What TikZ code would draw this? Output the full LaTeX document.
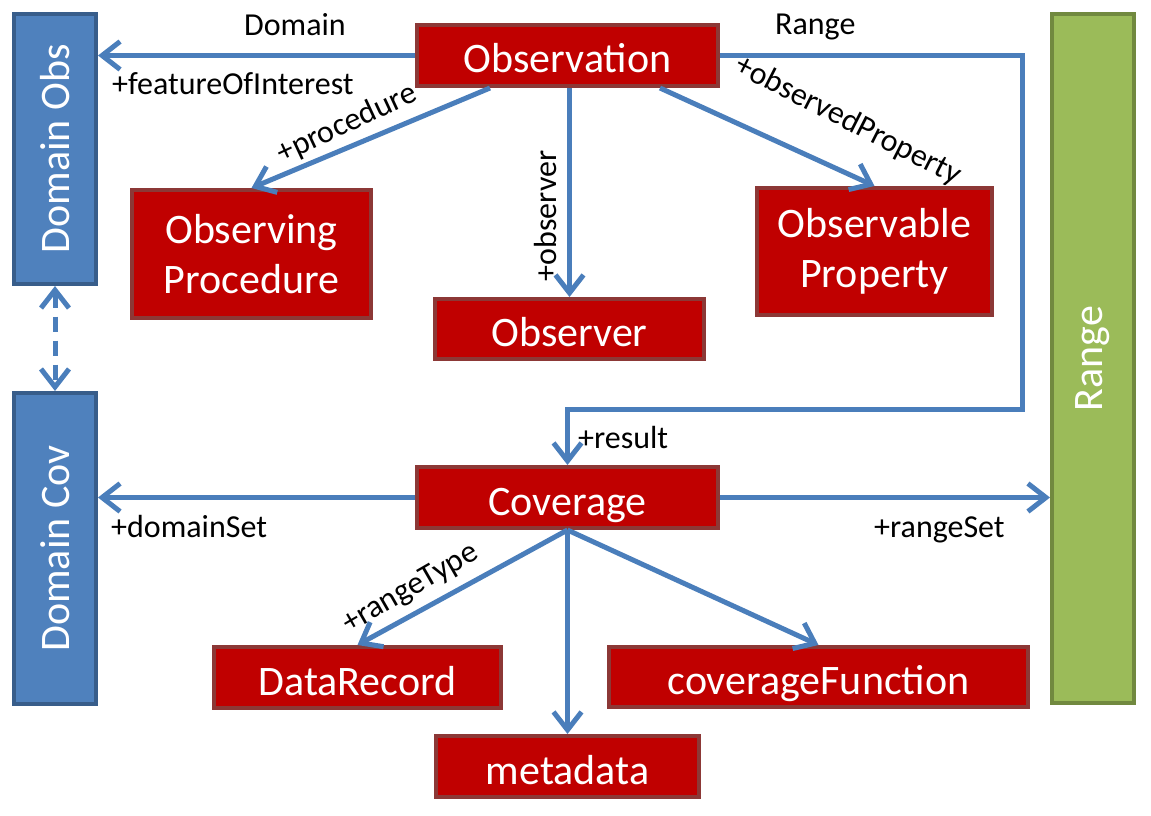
\documentclass[tikz,border=0pt]{standalone}
\usepackage{fontspec}
\setmainfont{Carlito}
\usepackage{graphicx}
\usepackage{tikz}
\usetikzlibrary{positioning, arrows.meta, calc}
\definecolor{boxred}{HTML}{C00000}
\definecolor{boxedge}{HTML}{8C3836}
\definecolor{domblue}{HTML}{4F81BD}
\definecolor{domedge}{HTML}{385D8A}
\definecolor{rnggreen}{HTML}{9BBB59}
\definecolor{rngedge}{HTML}{71893F}
\definecolor{linkblue}{HTML}{4A7EBB}

\begin{document}
\begin{tikzpicture}[x=1pt,y=-1pt,on grid,
        box/.style={draw=boxedge, fill=boxred, line width=4pt, text=white, align=center, inner sep=0pt, font=\fontsize{42}{50}\selectfont},
        onebox/.style={box, text height=35pt, text depth=0pt},
        side/.style={draw=domedge, fill=domblue, line width=4pt, text=white, inner sep=0pt, minimum width=82pt, font=\fontsize{42}{50}\selectfont},
        lbl/.style={inner sep=0pt, font=\fontsize{32}{36}\selectfont},
        link/.style={draw=linkblue, line width=5pt, -{Straight Barb[length=18pt,width=28pt]}}]
        \useasboundingbox (0,0) rectangle (1151,816);

        \node[side, minimum height=270pt] (dobs) at (55,149) {\rotatebox{90}{Domain Obs}};
        \node[side, minimum height=311pt] (dcov) at (55,548.5) {\rotatebox{90}{Domain Cov}};
        \node[side, draw=rngedge, fill=rnggreen, minimum height=689pt] (rng) at (1093,358.5) {\rotatebox{90}{Range}};

        \node[onebox, minimum width=301pt, minimum height=61pt] (obs) at (567.5,55.5) {Observation};
        \node[box, minimum width=239pt, minimum height=128pt] (proc) [below left=198.5pt and 316pt of obs] {Observing\\Procedure};
        \node[onebox, minimum width=269pt, minimum height=60pt] (obsr) [below right=273.5pt and 2pt of obs] {Observer};
        \node[box, minimum width=235pt, minimum height=127pt] (prop) [below right=196pt and 307pt of obs] {Observable\\Property};
        \node[onebox, minimum width=301pt, minimum height=61pt] (cov) [below=442pt of obs] {Coverage};
        \node[onebox, minimum width=287pt, minimum height=61pt] (rec) [below left=180pt and 210pt of cov] {DataRecord};
        \node[onebox, minimum width=419pt, minimum height=60pt] (fun) [below right=179.5pt and 251pt of cov] {coverageFunction};
        \node[onebox, minimum width=263pt, minimum height=61pt] (meta) [below=269pt of cov] {metadata};

        \coordinate (rc) at (1022.5,409);

        % observation links
        \draw[link] (obs.west) -- (obs.west -| dobs.east);
        \draw[link] (obs.east) -| (rc) -| (cov.north);
        \draw[link] ([xshift=-77.5pt]obs.south) -- (proc.north);
        \draw[link] (obs.south -| obsr.north) -- (obsr.north);
        \draw[link] ([xshift=92.5pt]obs.south) -- (prop.north);
        \draw[link, {Straight Barb[length=18pt,width=28pt]}-{Straight Barb[length=18pt,width=28pt]}, dash pattern=on 15pt off 9pt] (dobs.south) -- (dcov.north);

        % coverage links
        \draw[link] (cov.west) -- (cov.west -| dcov.east);
        \draw[link] (cov.east) -- (cov.east -| rng.west);
        \draw[link] (cov.south) -- (rec.north);
        \draw[link] (cov.south) -- (fun.north);
        \draw[link] (cov.south) -- (meta.north);

        \node[lbl, anchor=base] (domlbl) at (295,36) {Domain};
        \node[lbl, anchor=base west] (foilbl) at (112,94) {+featureOfInterest};
        \node[lbl, anchor=base west] (rnglbl) at (775,35) {Range};
        \node[lbl, rotate=25] (proclbl) at (347,124) {+procedure};
        \node[lbl, rotate=90] (obsrlbl) at (546,216) {+observer};
        \node[lbl, rotate=-27] (proplbl) at (848,121) {+observedProperty};
        \node[lbl, anchor=base west] (reslbl) at (578,448) {+result};
        \node[lbl, anchor=base west] (domsetlbl) at (111,537) {+domainSet};
        \node[lbl, anchor=base west] (rngsetlbl) at (874,537) {+rangeSet};
        \node[lbl, rotate=30] (typelbl) at (411,589) {+rangeType};
    \end{tikzpicture}
\end{document}
